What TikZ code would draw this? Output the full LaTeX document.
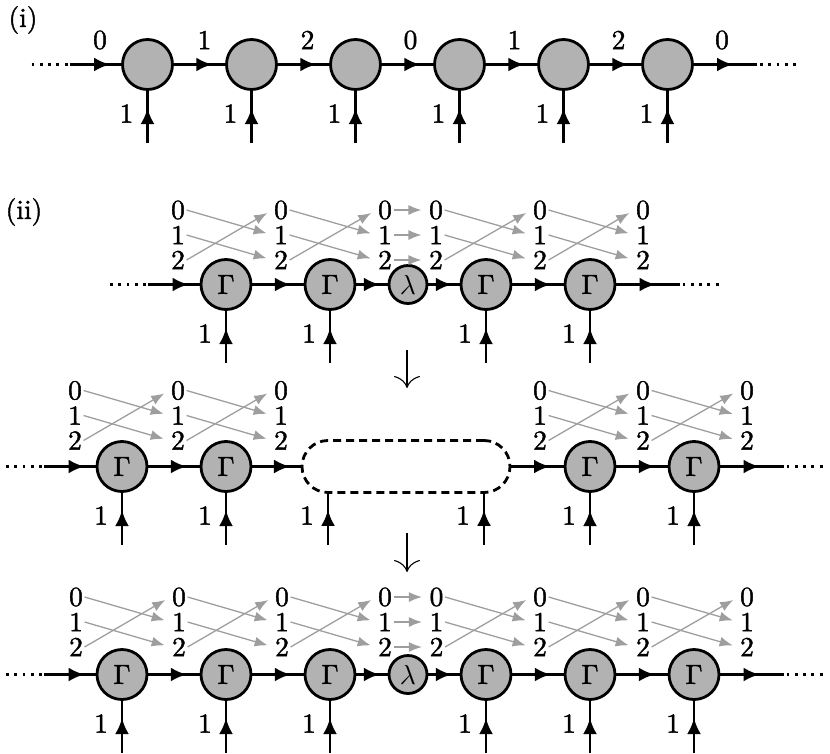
\documentclass[tikz,border=0pt]{standalone}
\usetikzlibrary{arrows.meta,decorations.markings,calc}
\font\lrm="[lmroman10-regular]:mapping=tex-text;embolden=1.5" at 27.5bp
\font\lmi=cmmi10 at 27.5bp
\newcommand\Gam{{\lrm\char"0393}}
\newcommand\lam{{\lmi\char"15}}
\definecolor{fillg}{gray}{0.70}
\definecolor{arrg}{gray}{0.62}
\tikzset{
  every node/.style={font=\lrm},
  lbl/.style={inner sep=1.5bp},
  gam/.style={circle, draw, line width=2.8bp, fill=fillg, minimum size=50bp, inner sep=0pt},
  lamst/.style={circle, draw, line width=2.8bp, fill=fillg, minimum size=38bp, inner sep=0pt},
  blk/.style={line width=2.8bp},
  midarr/.style={postaction={decorate,decoration={markings,mark=at position #1 with {\arrow{Latex[length=16bp,width=14bp]}}}}},
  dotline/.style={line width=2.8bp, dash pattern=on 2.8bp off 5.5bp},
  garr/.style={draw=arrg, line width=1.3bp, -{Latex[length=13bp,width=10bp]}, shorten >=6bp},
  stad/.style={draw, line width=2.8bp, dash pattern=on 8bp off 5bp, rounded corners=26bp, minimum width=208bp, minimum height=52bp, inner sep=0pt},
  downarr/.style={line width=1.1bp, -{Computer Modern Rightarrow[length=12bp,width=26bp]}},
}
\newcommand\labcol[3]{\foreach \k in {0,1,2}{\node[lbl] (#1n\k) at (#2,{#3+25*\k}) {\k};}}
\newcommand\gperm[2]{\draw[garr] (#1n0.east) -- (#2n1.west); \draw[garr] (#1n1.east) -- (#2n2.west); \draw[garr] (#1n2.east) -- (#2n0.west);}
\newcommand\gid[2]{\draw[garr] (#1n0.east) -- (#2n0.west); \draw[garr] (#1n1.east) -- (#2n1.west); \draw[garr] (#1n2.east) -- (#2n2.west);}
\newcommand\feed[1]{\coordinate (#1s) at ($(#1.center)+(0,78.5)$); \draw[blk,midarr=0.67] (#1s) -- (#1); \node[lbl] (#1o) at ($(#1.center)+(-21,49)$) {1};}
\begin{document}
\begin{tikzpicture}[x=1bp,y=-1bp]
\useasboundingbox (0,0) rectangle (830,754);
% ---------------- (i)
\node[lbl] (ti) at (23,20) {(i)};
\foreach \i/\x in {1/147.5,2/251.5,3/355.5,4/459.5,5/563.5,6/667.5}{\node[gam] (a\i) at (\x,64.5) {};}
\foreach \i/\x/\t in {1/100/0,2/204.5/1,3/307.5/2,4/410.5/0,5/514.5/1,6/618.5/2,7/722/0}{\node[lbl] (al\i) at (\x,40) {\t};}
\foreach \i/\j in {1/2,2/3,3/4,4/5,5/6}{\draw[blk,midarr=0.75] (a\i) -- (a\j);}
\coordinate (aL0) at (31.5,64.5); \coordinate (aL1) at (69.5,64.5);
\draw[dotline] (aL0) -- (aL1); \draw[blk,midarr=0.786] (aL1) -- (a1);
\coordinate (aR1) at (757,64.5); \coordinate (aR2) at (760,64.5); \coordinate (aR3) at (797,64.5);
\draw[blk,midarr=0.62] (a6) -- (aR1); \draw[dotline] (aR2) -- (aR3);
\foreach \i in {1,...,6}{\feed{a\i}}
% ---------------- (ii) top row
\node[lbl] (tii) at (24,212) {(ii)};
\node[gam] (b1) at (226,284.5) {\Gam};
\node[gam] (b2) at (330,284.5) {\Gam};
\node[lamst] (bl) at (408,284.5) {\lam};
\node[gam] (b3) at (486,284.5) {\Gam};
\node[gam] (b4) at (590,284.5) {\Gam};
\draw[blk,midarr=0.75] (b1) -- (b2);
\draw[blk,midarr=0.75] (b2) -- (bl);
\draw[blk,midarr=0.75] (bl) -- (b3);
\draw[blk,midarr=0.75] (b3) -- (b4);
\coordinate (bL0) at (110,284.5); \coordinate (bL1) at (148,284.5);
\draw[dotline] (bL0) -- (bL1); \draw[blk,midarr=0.786] (bL1) -- (b1);
\coordinate (bR1) at (679.5,284.5); \coordinate (bR2) at (682.5,284.5); \coordinate (bR3) at (719.5,284.5);
\draw[blk,midarr=0.62] (b4) -- (bR1); \draw[dotline] (bR2) -- (bR3);
\foreach \n in {b1,b2,b3,b4}{\feed{\n}}
\labcol{A1}{178}{210} \labcol{A2}{281}{210} \labcol{A3}{385}{210}
\labcol{A4}{436}{210} \labcol{A5}{540}{210} \labcol{A6}{643}{210}
\gperm{A1}{A2} \gperm{A2}{A3} \gid{A3}{A4} \gperm{A4}{A5} \gperm{A5}{A6}
% down arrow 1
\coordinate (v1a) at (407,350); \coordinate (v1b) at (407,388);
\draw[downarr] (v1a) -- (v1b);
% ---------------- (ii) middle row
\node[gam] (c1) at (122,466.5) {\Gam};
\node[gam] (c2) at (226,466.5) {\Gam};
\node[stad] (cs) at (406,466.5) {};
\node[gam] (c3) at (590,466.5) {\Gam};
\node[gam] (c4) at (694,466.5) {\Gam};
\draw[blk,midarr=0.75] (c1) -- (c2);
\draw[blk,midarr=0.78] (c2) -- (cs);
\draw[blk,midarr=0.74] (cs) -- (c3);
\draw[blk,midarr=0.75] (c3) -- (c4);
\coordinate (cL0) at (6,466.5); \coordinate (cL1) at (44,466.5);
\draw[dotline] (cL0) -- (cL1); \draw[blk,midarr=0.786] (cL1) -- (c1);
\coordinate (cR1) at (783.5,466.5); \coordinate (cR2) at (786.5,466.5); \coordinate (cR3) at (823.5,466.5);
\draw[blk,midarr=0.62] (c4) -- (cR1); \draw[dotline] (cR2) -- (cR3);
\foreach \n in {c1,c2,c3,c4}{\feed{\n}}
\coordinate (csa) at (328,492.5); \coordinate (csas) at (328,545);
\coordinate (csb) at (484,492.5); \coordinate (csbs) at (484,545);
\draw[blk,midarr=0.67] (csas) -- (csa); \node[lbl] (csao) at (307,515.5) {1};
\draw[blk,midarr=0.67] (csbs) -- (csb); \node[lbl] (csbo) at (463,515.5) {1};
\labcol{B1}{75}{390.5} \labcol{B2}{178}{390.5} \labcol{B3}{281}{390.5}
\labcol{B4}{540}{390.5} \labcol{B5}{643}{390.5} \labcol{B6}{747}{390.5}
\gperm{B1}{B2} \gperm{B2}{B3} \gperm{B4}{B5} \gperm{B5}{B6}
% down arrow 2
\coordinate (v2a) at (407,533); \coordinate (v2b) at (407,572);
\draw[downarr] (v2a) -- (v2b);
% ---------------- (ii) bottom row
\node[gam] (d1) at (122,674.5) {\Gam};
\node[gam] (d2) at (226,674.5) {\Gam};
\node[gam] (d3) at (330,674.5) {\Gam};
\node[lamst] (dl) at (408,674.5) {\lam};
\node[gam] (d4) at (486,674.5) {\Gam};
\node[gam] (d5) at (590,674.5) {\Gam};
\node[gam] (d6) at (694,674.5) {\Gam};
\draw[blk,midarr=0.75] (d1) -- (d2);
\draw[blk,midarr=0.75] (d2) -- (d3);
\draw[blk,midarr=0.75] (d3) -- (dl);
\draw[blk,midarr=0.75] (dl) -- (d4);
\draw[blk,midarr=0.75] (d4) -- (d5);
\draw[blk,midarr=0.75] (d5) -- (d6);
\coordinate (dL0) at (6,674.5); \coordinate (dL1) at (44,674.5);
\draw[dotline] (dL0) -- (dL1); \draw[blk,midarr=0.786] (dL1) -- (d1);
\coordinate (dR1) at (783.5,674.5); \coordinate (dR2) at (786.5,674.5); \coordinate (dR3) at (823.5,674.5);
\draw[blk,midarr=0.62] (d6) -- (dR1); \draw[dotline] (dR2) -- (dR3);
\foreach \n in {d1,d2,d3,d4,d5,d6}{\feed{\n}}
\labcol{C1}{76}{597} \labcol{C2}{179}{597} \labcol{C3}{282}{597} \labcol{C4}{385}{597}
\labcol{C5}{436.5}{597} \labcol{C6}{540}{597} \labcol{C7}{643}{597} \labcol{C8}{747}{597}
\gperm{C1}{C2} \gperm{C2}{C3} \gperm{C3}{C4} \gid{C4}{C5} \gperm{C5}{C6} \gperm{C6}{C7} \gperm{C7}{C8}
\end{tikzpicture}
\end{document}
